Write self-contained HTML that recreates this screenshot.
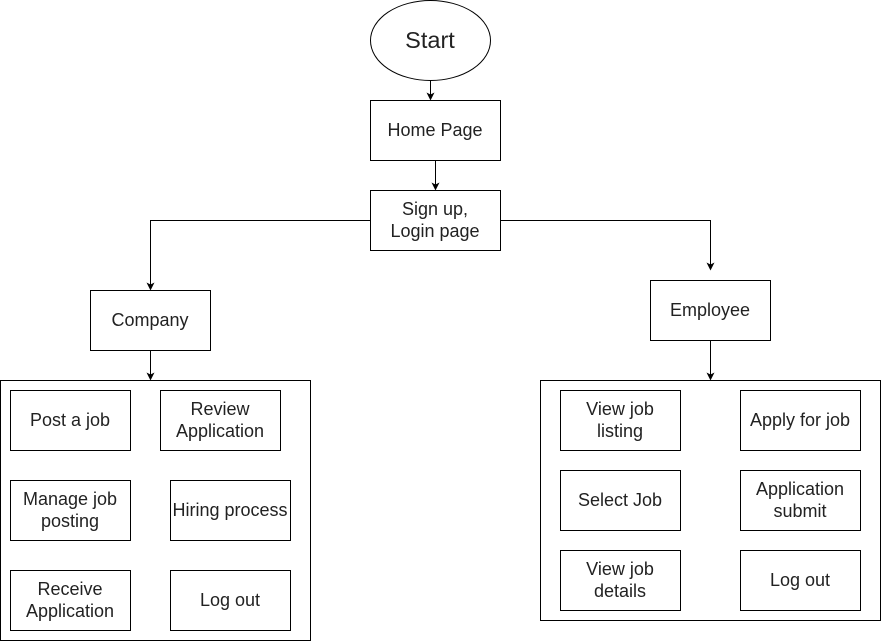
<!DOCTYPE html>
<html><head><meta charset="utf-8"><style>html,body{margin:0;padding:0;background:#fff}svg{display:block}text{font-family:"Liberation Sans",Arial,sans-serif;font-size:18px;fill:#222}</style></head><body>
<svg width="882" height="642" viewBox="0 0 882 642" xmlns="http://www.w3.org/2000/svg">
<defs><marker id="a" markerWidth="8" markerHeight="8" refX="7" refY="4" orient="auto" markerUnits="userSpaceOnUse"><path d="M0,0 L8,4 L0,8 L2,4 z" fill="#000"/></marker></defs>
<g fill="#fff" stroke="#000" stroke-width="1">
<ellipse cx="430.5" cy="40.5" rx="60" ry="40"/>
<rect x="370.5" y="100.5" width="130" height="60"/>
<rect x="370.5" y="190.5" width="130" height="60"/>
<rect x="90.5" y="290.5" width="120" height="60"/>
<rect x="650.5" y="280.5" width="120" height="60"/>
<rect x="0.5" y="380.5" width="310" height="260"/>
<rect x="540.5" y="380.5" width="340" height="240"/>
<rect x="10.5" y="390.5" width="120" height="60"/>
<rect x="160.5" y="390.5" width="120" height="60"/>
<rect x="10.5" y="480.5" width="120" height="60"/>
<rect x="170.5" y="480.5" width="120" height="60"/>
<rect x="10.5" y="570.5" width="120" height="60"/>
<rect x="170.5" y="570.5" width="120" height="60"/>
<rect x="560.5" y="390.5" width="120" height="60"/>
<rect x="740.5" y="390.5" width="120" height="60"/>
<rect x="560.5" y="470.5" width="120" height="60"/>
<rect x="740.5" y="470.5" width="120" height="60"/>
<rect x="560.5" y="550.5" width="120" height="60"/>
<rect x="740.5" y="550.5" width="120" height="60"/>
</g>
<g fill="none" stroke="#000" stroke-width="1" marker-end="url(#a)">
<path d="M430.5,80.5 V99.5"/>
<path d="M435.5,160.5 V189.5"/>
<path d="M370.5,220.5 H150.5 V289.5"/>
<path d="M500.5,220.5 H710.5 V269.5"/>
<path d="M150.5,350.5 V379.5"/>
<path d="M710.5,340.5 V379.5"/>
</g>
<g text-anchor="middle">
<text x="430" y="48" style="font-size:23.5px">Start</text>
<text x="435" y="136">Home Page</text>
<text x="435" y="215">Sign up,</text><text x="435" y="237">Login page</text>
<text x="150" y="326">Company</text>
<text x="710" y="316">Employee</text>
<text x="70" y="426">Post a job</text>
<text x="220" y="415">Review</text><text x="220" y="437">Application</text>
<text x="70" y="505">Manage job</text><text x="70" y="527">posting</text>
<text x="230" y="516">Hiring process</text>
<text x="70" y="595">Receive</text><text x="70" y="617">Application</text>
<text x="230" y="606">Log out</text>
<text x="620" y="415">View job</text><text x="620" y="437">listing</text>
<text x="800" y="426">Apply for job</text>
<text x="620" y="506">Select Job</text>
<text x="800" y="495">Application</text><text x="800" y="517">submit</text>
<text x="620" y="575">View job</text><text x="620" y="597">details</text>
<text x="800" y="586">Log out</text>
</g>
</svg>
</body></html>
